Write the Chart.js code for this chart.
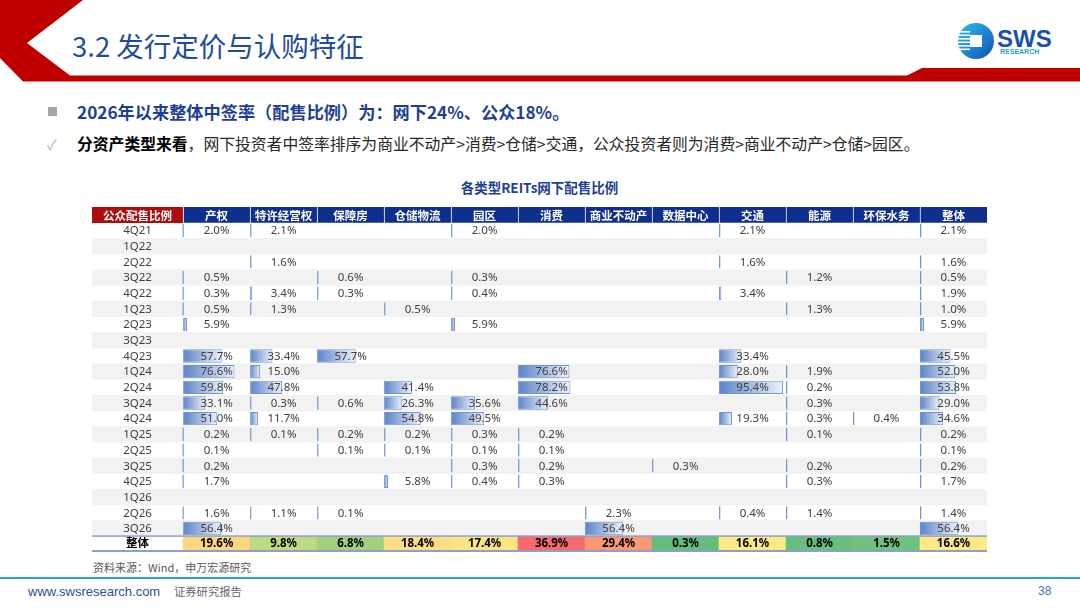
<!DOCTYPE html>
<html lang="zh-CN">
<head>
<meta charset="utf-8">
<title>各类型REITs网下配售比例</title>
<script src="https://cdn.jsdelivr.net/npm/chart.js@4.4.1/dist/chart.umd.min.js"></script>
<style>
  html, body { margin: 0; padding: 0; background: #fff; }
  body { width: 1080px; height: 608px; position: relative; overflow: hidden;
         font-family: "Noto Sans CJK SC", "Noto Sans", sans-serif; }
  .abs { position: absolute; white-space: nowrap; }
  #titulo { left: 72px; top: 28px; font-size: 27.5px; line-height: 34px; color: #1f4d9c; }
  #b1sq { left: 48px; top: 107px; width: 9px; height: 9px; background: #a6a6a6; }
  #b1 { left: 77px; top: 100px; font-size: 17.2px; line-height: 24px; font-weight: bold; color: #1f3f94; }
  #b2ck { left: 47px; top: 134px; font-size: 14px; line-height: 20px; color: #b0b0b0; }
  #b2 { left: 77px; top: 133px; font-size: 15.8px; line-height: 22px; color: #262626; }
  #b2 b { color: #000; }
  #ctitulo { left: 92px; width: 895px; top: 178px; text-align: center; font-size: 13.5px; line-height: 18px;
             font-weight: bold; color: #1f3f94; }
  #tabela { left: 92px; top: 207px; width: 895px; height: 345px; }
  #fonte { left: 93px; top: 559px; font-size: 11px; line-height: 16px; color: #595959; }
  #linha { left: 0; top: 577px; width: 1080px; height: 2px; background: #2aa0d8; }
  #site { left: 28px; top: 583px; font-family: "Liberation Sans", Arial, sans-serif; font-size: 13px; line-height: 17px; color: #2c4f9e; }
  #rel { left: 174px; top: 583px; font-size: 11.3px; line-height: 16px; color: #666; }
  #pag { left: 1038px; top: 583px; font-family: "Liberation Sans", Arial, sans-serif; font-size: 12px; line-height: 17px; color: #4472c4; }
</style>
</head>
<body>
<svg class="abs" style="left:0;top:0" width="1080" height="90">
  <defs>
    <linearGradient id="gLogo" x1="0" y1="0" x2="1" y2="1">
      <stop offset="0" stop-color="#2cc0f0"/>
      <stop offset="1" stop-color="#1250b4"/>
    </linearGradient>
    <clipPath id="cLogo"><circle cx="976" cy="41" r="18"/></clipPath>
  </defs>
  <polygon fill="#c00000" points="0,0 83,0 27,43 70,75.5 907,75.5 922,68 1080,68 1080,81.5 23,81.5 0,58"/>
  <circle cx="976" cy="41" r="18" fill="url(#gLogo)"/>
  <g clip-path="url(#cLogo)" fill="#fff">
    <rect x="955" y="31" width="15" height="1.6"/>
    <rect x="955" y="34.5" width="15" height="1.6"/>
    <rect x="955" y="38" width="15" height="1.6"/>
    <rect x="955" y="41.5" width="15" height="1.6"/>
    <rect x="955" y="45" width="15" height="1.6"/>
    <rect x="955" y="48.5" width="15" height="1.6"/>
    <rect x="970" y="35" width="12" height="12"/>
  </g>
  <text x="997" y="47" font-family="Liberation Sans, Arial, sans-serif" font-weight="bold" font-size="24" fill="#1d4fae">SWS</text>
  <text x="1000" y="54" font-family="Liberation Sans, Arial, sans-serif" font-weight="bold" font-size="7" fill="#2a9fdf">RESEARCH</text>
</svg>

<div id="titulo" class="abs">3.2 发行定价与认购特征</div>
<div id="b1sq" class="abs"></div>
<div id="b1" class="abs">2026年以来整体中签率（配售比例）为：网下24%、公众18%。</div>
<div id="b2ck" class="abs">✓</div>
<div id="b2" class="abs"><b>分资产类型来看</b>，网下投资者中签率排序为商业不动产&gt;消费&gt;仓储&gt;交通，公众投资者则为消费&gt;商业不动产&gt;仓储&gt;园区。</div>
<div id="ctitulo" class="abs">各类型REITs网下配售比例</div>
<div id="tabela" class="abs"><canvas id="grafico"></canvas></div>
<div id="fonte" class="abs">资料来源：Wind，申万宏源研究</div>
<div id="linha" class="abs"></div>
<div id="site" class="abs">www.swsresearch.com</div>
<div id="rel" class="abs">证券研究报告</div>
<div id="pag" class="abs">38</div>

<script>
const cornerLabel = '公众配售比例';
const totalLabel = '整体';
const quarters = ['4Q21','1Q22','2Q22','3Q22','4Q22','1Q23','2Q23','3Q23','4Q23','1Q24',
                  '2Q24','3Q24','4Q24','1Q25','2Q25','3Q25','4Q25','1Q26','2Q26','3Q26'];
const categories = ['产权','特许经营权','保障房','仓储物流','园区','消费','商业不动产','数据中心','交通','能源','环保水务','整体'];

// 每列按季度排列, null = 空白
const chanquan   = [2.0, null, null, 0.5, 0.3, 0.5, 5.9, null, 57.7, 76.6, 59.8, 33.1, 51.0, 0.2, 0.1, 0.2, 1.7, null, 1.6, 56.4];
const texu       = [2.1, null, 1.6, null, 3.4, 1.3, null, null, 33.4, 15.0, 47.8, 0.3, 11.7, 0.1, null, null, null, null, 1.1, null];
const baozhang   = [null, null, null, 0.6, 0.3, null, null, null, 57.7, null, null, 0.6, null, 0.2, 0.1, null, null, null, 0.1, null];
const cangchu    = [null, null, null, null, null, 0.5, null, null, null, null, 41.4, 26.3, 54.8, 0.2, 0.1, null, 5.8, null, null, null];
const yuanqu     = [2.0, null, null, 0.3, 0.4, null, 5.9, null, null, null, null, 35.6, 49.5, 0.3, 0.1, 0.3, 0.4, null, null, null];
const xiaofei    = [null, null, null, null, null, null, null, null, null, 76.6, 78.2, 44.6, null, 0.2, 0.1, 0.2, 0.3, null, null, null];
const shangye    = [null, null, null, null, null, null, null, null, null, null, null, null, null, null, null, null, null, null, 2.3, 56.4];
const shuju      = [null, null, null, null, null, null, null, null, null, null, null, null, null, null, null, 0.3, null, null, null, null];
const jiaotong   = [2.1, null, 1.6, null, 3.4, null, null, null, 33.4, 28.0, 95.4, null, 19.3, null, null, null, null, null, 0.4, null];
const nengyuan   = [null, null, null, 1.2, null, 1.3, null, null, null, 1.9, 0.2, 0.3, 0.3, 0.1, null, 0.2, 0.3, null, 1.4, null];
const huanbao    = [null, null, null, null, null, null, null, null, null, null, null, null, 0.4, null, null, null, null, null, null, null];
const zhengti    = [2.1, null, 1.6, 0.5, 1.9, 1.0, 5.9, null, 45.5, 52.0, 53.8, 29.0, 34.6, 0.2, 0.1, 0.2, 1.7, null, 1.4, 56.4];
const colunas = [chanquan, texu, baozhang, cangchu, yuanqu, xiaofei, shangye, shuju, jiaotong, nengyuan, huanbao, zhengti];

const totalRow = [19.6, 9.8, 6.8, 18.4, 17.4, 36.9, 29.4, 0.3, 16.1, 0.8, 1.5, 16.6];

// cada coluna ocupa 100 unidades no eixo x (100% = largura da célula)
const COL = 100;
const LABEL_W = 136;
const FIM = categories.length * COL;

// escala de 3 cores estilo Excel (min verde, percentil 50 amarelo, max vermelho)
function corEscala(v, arr) {
  const s = [...arr].sort((a, b) => a - b);
  const min = s[0], max = s[s.length - 1];
  const r = 0.5 * (s.length - 1), lo = Math.floor(r);
  const mid = s[lo] + (s[Math.min(lo + 1, s.length - 1)] - s[lo]) * (r - lo);
  const verde = [99, 190, 123], amarelo = [255, 235, 132], vermelho = [248, 105, 107];
  let a, b, t;
  if (v <= mid) { a = verde; b = amarelo; t = (v - min) / (mid - min); }
  else { a = amarelo; b = vermelho; t = (v - mid) / (max - mid); }
  const c = a.map((k, i) => Math.round(k + (b[i] - k) * t));
  return `rgb(${c[0]},${c[1]},${c[2]})`;
}

const rowLabels = [cornerLabel, ...quarters, totalLabel];

const listras = quarters.filter((q, i) => i % 2 === 1).map(q => ({ x: [-LABEL_W, FIM], y: q }));
const cabecalho = [{ x: [-LABEL_W, 0], y: cornerLabel }]
  .concat(categories.map((c, i) => ({ x: [i * COL, (i + 1) * COL], y: cornerLabel })));
const totais = categories.map((c, i) => ({ x: [i * COL, (i + 1) * COL], y: totalLabel, v: totalRow[i] }));
const barras = [];
colunas.forEach((serie, i) => {
  serie.forEach((v, j) => {
    if (v !== null) barras.push({ x: [i * COL, i * COL + v], y: quarters[j], v: v });
  });
});

const fmt = v => v.toFixed(1) + '%';

const textoTabela = {
  id: 'textoTabela',
  afterDatasetsDraw(chart) {
    const { ctx, scales: { x, y } } = chart;
    const rowH = y.getPixelForValue(1) - y.getPixelForValue(0);
    ctx.save();
    ctx.textAlign = 'center';
    ctx.textBaseline = 'middle';

    // linhas do total
    const yt = y.getPixelForValue(rowLabels.length - 1);
    ctx.fillStyle = '#8e9fcf';
    ctx.fillRect(x.left, yt - rowH / 2 - 1, x.right - x.left, 1.5);
    ctx.fillRect(x.left, yt + rowH / 2 - 2, x.right - x.left, 2);

    // cabeçalho
    const yh = y.getPixelForValue(0);
    ctx.fillStyle = '#fff';
    ctx.font = 'bold 11.5px "Noto Sans CJK SC", sans-serif';
    ctx.fillText(cornerLabel, x.getPixelForValue(-LABEL_W / 2), yh + 0.5);
    categories.forEach((c, i) => ctx.fillText(c, x.getPixelForValue(i * COL + COL / 2), yh + 0.5));

    // rótulos e valores
    ctx.fillStyle = '#404040';
    ctx.font = '11.5px "Noto Sans", "Noto Sans CJK SC", sans-serif';
    quarters.forEach((q, j) => {
      const yy = y.getPixelForValue(j + 1) + 0.5;
      ctx.fillText(q, x.getPixelForValue(-LABEL_W / 2), yy);
      colunas.forEach((serie, i) => {
        if (serie[j] !== null) ctx.fillText(fmt(serie[j]), x.getPixelForValue(i * COL + COL / 2), yy);
      });
    });

    ctx.fillStyle = '#000';
    ctx.font = 'bold 11.5px "Noto Sans", "Noto Sans CJK SC", sans-serif';
    ctx.fillText(totalLabel, x.getPixelForValue(-LABEL_W / 2), yt);
    totalRow.forEach((v, i) => ctx.fillText(fmt(v), x.getPixelForValue(i * COL + COL / 2), yt));
    ctx.restore();
  }
};

Chart.defaults.font.family = '"Noto Sans", "Noto Sans CJK SC", sans-serif';

new Chart(document.getElementById('grafico'), {
  type: 'bar',
  data: {
    labels: rowLabels,
    datasets: [
      {
        label: 'listras',
        data: listras,
        backgroundColor: '#f2f2f2',
        barPercentage: 1,
        categoryPercentage: 1,
        grouped: false,
        order: 10
      },
      {
        label: 'cabecalho',
        data: cabecalho,
        backgroundColor: c => c.dataIndex === 0 ? '#b00c0c' : '#0f2f8f',
        borderColor: '#ffffff',
        borderWidth: c => ({ left: c.dataIndex === 0 ? 0 : 1, right: 0, top: 0, bottom: 0 }),
        borderSkipped: false,
        barPercentage: 1,
        categoryPercentage: 1,
        grouped: false,
        order: 5
      },
      {
        label: 'total',
        data: totais,
        backgroundColor: c => c.raw ? corEscala(c.raw.v, totalRow) : '#ffeb84',
        barPercentage: 1,
        categoryPercentage: 1,
        grouped: false,
        order: 5
      },
      {
        label: 'barras',
        data: barras,
        backgroundColor: c => {
          const p = c.raw, xs = c.chart.scales.x;
          if (!p || !xs) return '#7a9bd6';
          const x0 = xs.getPixelForValue(p.x[0]);
          const x1 = Math.max(xs.getPixelForValue(p.x[1]), x0 + 2);
          if (!isFinite(x0) || !isFinite(x1)) return '#7a9bd6';
          const g = c.chart.ctx.createLinearGradient(x0, 0, x1, 0);
          g.addColorStop(0, '#5a83c8');
          g.addColorStop(1, '#eef2fa');
          return g;
        },
        borderColor: '#6f93d2',
        borderWidth: 1,
        borderSkipped: false,
        minBarLength: 1.5,
        barPercentage: 0.85,
        categoryPercentage: 1,
        grouped: false,
        order: 1
      }
    ]
  },
  options: {
    indexAxis: 'y',
    responsive: true,
    maintainAspectRatio: false,
    animation: false,
    events: [],
    layout: { padding: 0 },
    scales: {
      x: { type: 'linear', min: -LABEL_W, max: FIM, display: false },
      y: { type: 'category', display: false }
    },
    plugins: {
      legend: { display: false },
      tooltip: { enabled: false },
      title: { display: false }
    }
  },
  plugins: [textoTabela]
});
</script>
</body>
</html>
